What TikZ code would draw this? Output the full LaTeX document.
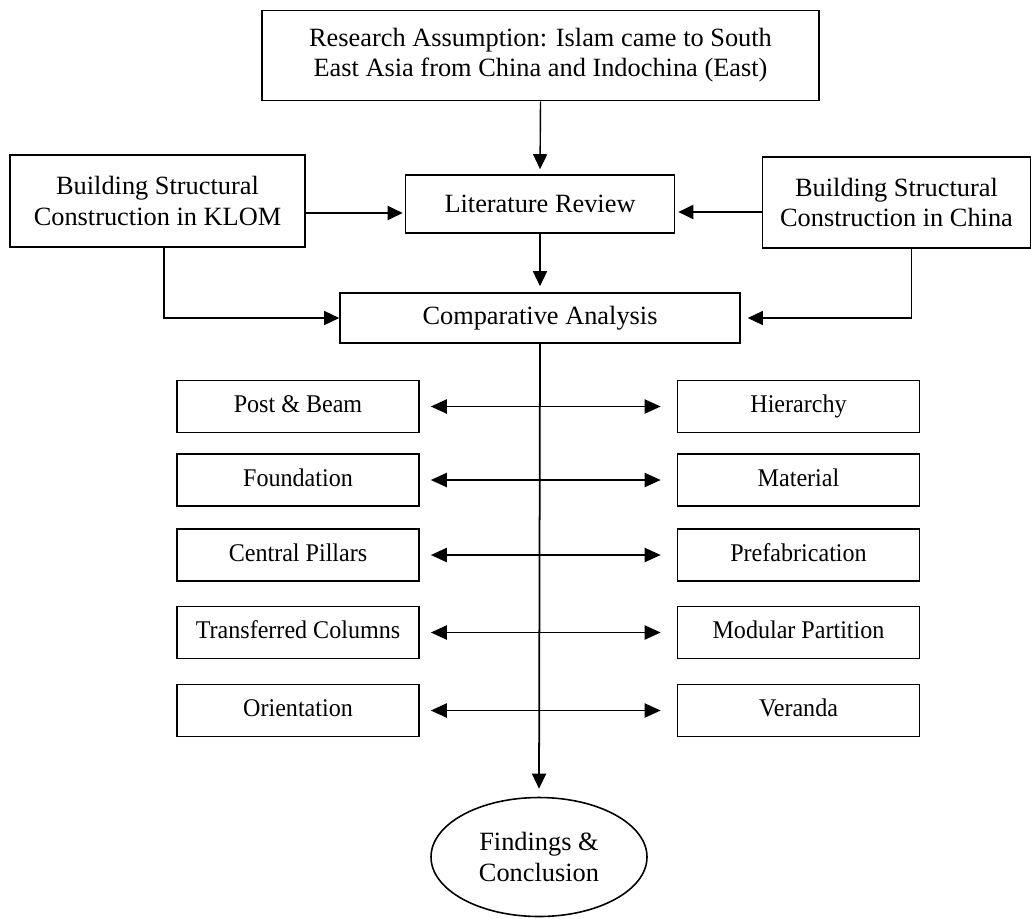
\documentclass[tikz,border=0pt]{standalone}
\usepackage{fontspec}
\setmainfont{Liberation Serif}
\newfontfamily\narrowserif[FakeStretch=0.945]{Liberation Serif}
\usetikzlibrary{arrows.meta,shapes.geometric}

\begin{document}
\begin{tikzpicture}[
		bigbox/.style={draw, line width=0.9pt, align=center, inner sep=2pt,
			font=\fontsize{15}{17.2}\selectfont},
		smallbox/.style={draw, line width=0.9pt, align=center, inner sep=2pt,
			minimum width=4.84cm, minimum height=1.04cm,
			text height=10pt, text depth=3pt,
			font=\narrowserif\fontsize{14.5}{17}\selectfont},
		arr/.style={line width=0.8pt, -{Triangle[length=0.3cm, width=0.28cm]}},
		dblarr/.style={line width=1.1pt,
			{Triangle[length=0.32cm, width=0.28cm]}-{Triangle[length=0.32cm, width=0.28cm]},
			shorten <=0.22cm, shorten >=0.32cm}
	]
	\useasboundingbox (0, 0) rectangle (20.62, -18.36);

	% top row
	\node[bigbox, minimum width=11.14cm, minimum height=1.8cm] (assump) at (10.81, -1.11)
		{Research Assumption: Islam came to South\\East Asia from China and Indochina (East)};
	\node[bigbox, minimum width=5.38cm, minimum height=1.16cm] (litrev) at (10.8, -4.08)
		{Literature Review};
	\node[bigbox, minimum width=5.9cm, minimum height=1.84cm] (klom) at (3.15, -4.02)
		{Building Structural\\Construction in KLOM};
	\node[bigbox, minimum width=5.36cm, minimum height=1.82cm] (china) at (17.93, -4.05)
		{Building Structural\\Construction in China};
	\node[bigbox, minimum width=8cm, minimum height=1cm] (compare) at (10.8, -6.36)
		{Comparative Analysis};

	% the two columns
	\node[smallbox] (postbeam) at (5.96, -8.13) {Post \& Beam};
	\node[smallbox] (foundation) at (5.96, -9.6) {Foundation};
	\node[smallbox] (pillars) at (5.96, -11.1) {Central Pillars};
	\node[smallbox] (columns) at (5.96, -12.65) {Transferred Columns};
	\node[smallbox] (orient) at (5.96, -14.21) {Orientation};

	\node[smallbox] (hierarchy) at (15.97, -8.13) {Hierarchy};
	\node[smallbox] (material) at (15.97, -9.6) {Material};
	\node[smallbox] (prefab) at (15.97, -11.1) {Prefabrication};
	\node[smallbox] (modular) at (15.97, -12.65) {Modular Partition};
	\node[smallbox] (veranda) at (15.97, -14.21) {Veranda};

	\node[ellipse, draw, line width=0.9pt, minimum width=4.32cm, minimum height=2.38cm,
		inner sep=0pt, align=center, font=\fontsize{15}{17.6}\selectfont]
		(findings) at (10.78, -17.14) {Findings \&\\Conclusion};

	% connectors
	\draw[arr, shorten >=0.1cm] (assump.south) -- (litrev.north);
	\draw[arr, shorten >=0.12cm] (litrev.south) -- (compare.north);
	\draw[arr, line width=1.1pt, shorten >=0.04cm]
		([yshift=-0.24cm]klom.east) -- ([yshift=-0.24cm]klom.east -| litrev.west);
	\draw[arr, line width=1.1pt, shorten >=0.06cm]
		([yshift=-0.19cm]china.west) -- ([yshift=-0.19cm]china.west -| litrev.east);
	\draw[arr] ([xshift=0.13cm]klom.south) |- (compare.west);
	\draw[arr, shorten >=0.14cm] ([xshift=0.3cm]china.south) |- (compare.east);
	\draw[arr, line width=1pt, shorten >=0.16cm] (compare.south) -- (findings.north);

	\draw[dblarr] (postbeam) -- (hierarchy);
	\draw[dblarr] (foundation) -- (material);
	\draw[dblarr] (pillars) -- (prefab);
	\draw[dblarr] (columns) -- (modular);
	\draw[dblarr] (orient) -- (veranda);
\end{tikzpicture}
\end{document}
